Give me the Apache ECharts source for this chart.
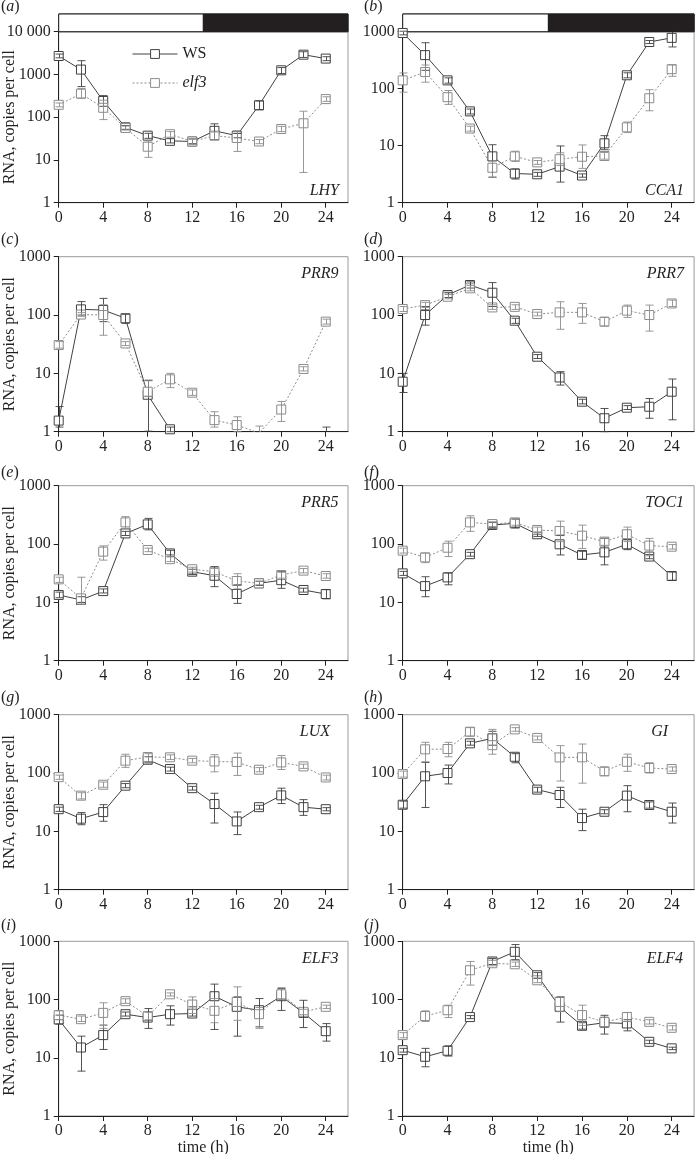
<!DOCTYPE html>
<html><head><meta charset="utf-8">
<script src="https://cdn.jsdelivr.net/npm/echarts@6/dist/echarts.min.js"></script>
<style>html,body{margin:0;padding:0;background:#fff}#c{width:696px;height:1154px}</style>
</head><body><div id="c"></div>
<script>
// ---------- data ----------
const HOURS = [0, 2, 4, 6, 8, 10, 12, 14, 16, 18, 20, 22, 24];
const PHOTOPERIOD = [[0, 13, 0], [13, 26, 1]]; // [start, end, dark?]
const GENES = ['LHY', 'CCA1', 'PRR9', 'PRR7', 'PRR5', 'TOC1', 'LUX', 'GI', 'ELF3', 'ELF4'];
const LETTERS = ['a', 'b', 'c', 'd', 'e', 'f', 'g', 'h', 'i', 'j'];
const Y_MAX = [10000, 1000, 1000, 1000, 1000, 1000, 1000, 1000, 1000, 1000];
const SERIES_NAMES = ['WS', 'elf3'];

const LHY_WS = [2700, 1300, 240, 58, 37, 28, 27, 48, 37, 190, 1250, 2900, 2350];
const LHY_WS_ERR = [[2450,3000],[520,2100],[180,320],[52,64],[32,42],[25,32],[24,31],[30,70],[33,42],[150,240],[1050,1450],[2500,3400],[2100,2600]];
const LHY_ELF = [195, 354, 166, 56, 20.4, 40, 27, 37, 32.6, 27, 53, 72, 265];
const LHY_ELF_ERR = [[175,215],[280,470],[88,250],[50,62],[11.5,28],[34,46],[23,31],[30,45],[15.8,48],[24,30],[46,61],[5.1,138],[235,300]];

const CCA1_WS = [950, 388, 140, 40, 6.5, 3.25, 3.15, 4.3, 3.0, 11, 172, 660, 780];
const CCA1_WS_ERR = [[880,1020],[210,640],[125,155],[36,44],[2.8,10.4],[2.6,3.9],[2.9,3.4],[2.3,9.9],[2.8,3.2],[8.5,15],[155,190],[620,700],[540,1140]];
const CCA1_ELF = [140, 196, 71, 20, 4.1, 6.5, 5.1, 5.8, 6.4, 6.6, 21, 68, 220];
const CCA1_ELF_ERR = [[87,189],[130,260],[53,93],[18,22],[2.8,5.4],[5.3,8],[4.7,5.5],[4.5,7.5],[4,10.3],[5.8,7.6],[17,26],[41,96],[165,260]];

const PRR9_WS = [1.55, 125, 122, 88, 4.3, 1.1, null, null, null, null, null, null, null];
const PRR9_WS_ERR = [[1.2,2.7],[100,170],[77,193],[72,103],[1.02,7.5],[1.0,1.2],null,null,null,null,null,null,[0.4,1.2]];
const PRR9_ELF = [30.6, 102, 100, 32.6, 4.85, 7.9, 4.66, 1.58, 1.3, 0.95, 2.4, 11.9, 77];
const PRR9_ELF_ERR = [[27,35],[95,110],[45,150],[30,35],[4,7.7],[5.7,10],[4.2,5.2],[1.2,2.2],[1.0,1.8],[0.8,1.25],[1.5,3.3],[11,13],[70,85]];

const PRR7_WS = [7.2, 100, 220, 327, 241, 80, 19.3, 8.5, 3.27, 1.7, 2.58, 2.68, 4.85];
const PRR7_WS_ERR = [[4.7,10],[67,140],[200,240],[290,370],[140,360],[72,88],[18,21],[6.3,10.7],[3,3.6],[1,2.5],[2.4,2.8],[1.7,3.7],[1.6,8]];
const PRR7_ELF = [127, 148, 206, 287, 135, 138, 104, 111, 111, 77, 119, 100, 158];
const PRR7_ELF_ERR = [[115,140],[135,165],[190,225],[260,320],[125,150],[125,150],[97,112],[57,169],[72,158],[65,91],[91,148],[53,148],[140,180]];

const PRR5_WS = [13.4, 11, 15.6, 152, 217, 69, 33.6, 28.6, 13.9, 21.2, 24, 16.3, 13.9];
const PRR5_WS_ERR = [[12,15],[10,12.5],[14.5,17],[140,165],[175,275],[62,78],[30,37],[18.6,41],[9.6,20],[19.5,23],[17.4,33.6],[15,17.5],[11.5,16.5]];
const PRR5_ELF = [24.8, 11.7, 74, 235, 79, 55, 37, 33.6, 23.2, 21.2, 29.4, 35, 28.3];
const PRR5_ELF_ERR = [[22,27],[9.2,27],[53,93],[185,295],[74,85],[50,60],[33,40],[30,38],[17,31],[20,23],[26,33],[32,38],[26,31]];

const TOC1_WS = [31.4, 19, 26.8, 67, 212, 226, 147, 99, 65, 72, 99, 61, 28.3];
const TOC1_WS_ERR = [[29,34],[12.5,27.5],[20,32],[62,72],[190,235],[190,268],[135,160],[65,142],[55,75],[44,125],[80,120],[56,66],[24,33]];
const TOC1_ELF = [77, 59, 86.5, 235, 220, 235, 174, 167, 139, 110, 147, 94, 90];
const TOC1_ELF_ERR = [[70,85],[48,70],[61,112],[165,305],[200,240],[210,265],[155,195],[110,247],[84,211],[95,125],[110,195],[63,125],[82,98]];

const LUX_WS = [24, 16.5, 21.4, 60.7, 169, 117, 55, 29.4, 14.8, 26, 41.4, 26, 24];
const LUX_WS_ERR = [[22,26],[13,21],[14.9,28.7],[56,66],[150,190],[108,126],[51,59],[13.9,45],[8.8,21.5],[24,28],[30,55],[18.8,35],[22.5,25.5]];
const LUX_ELF = [85, 40.9, 63, 163, 188, 186, 163, 158, 155, 114, 152, 130, 84];
const LUX_ELF_ERR = [[78,92],[36,46],[57,70],[125,210],[150,215],[170,205],[150,178],[105,206],[91,220],[105,124],[115,200],[120,142],[76,92]];

const GI_WS = [28.6, 88, 100, 323, 393, 190, 52, 42, 16.9, 21.7, 41, 28.3, 21.7];
const GI_WS_ERR = [[25,33],[25.7,152],[65,137],[300,350],[300,520],[150,215],[47,57],[25.7,57],[10.3,24],[20,23.5],[21.7,60.7],[25,32],[13.9,30.6]];
const GI_ELF = [96, 255, 258, 511, 300, 560, 400, 185, 186, 107, 156, 122, 117];
const GI_ELF_ERR = [[85,108],[156,336],[190,336],[430,600],[210,560],[520,600],[370,430],[73,295],[67,314],[90,125],[107,211],[100,150],[108,127]];

const ELF3_WS = [45.4, 15, 24.5, 56, 49, 56, 57.5, 114, 75, 65.6, 114, 59, 28.6];
const ELF3_WS_ERR = [[38,54],[5.9,23.5],[13.9,36.4],[52,61],[31.9,70],[36.4,78],[52,75],[30.6,184],[23.5,111],[34,104],[65,154],[33,97],[19.3,38.6]];
const ELF3_ELF = [54, 46, 59, 93.7, 52, 123, 82, 64, 91, 56, 123, 61.5, 75];
const ELF3_ELF_ERR = [[45,64],[42,52],[32,88],[86,103],[45,60],[115,130],[57.5,111],[40,104],[44,165],[32,73],[100,160],[55,68],[70,80]];

const ELF4_WS = [13.5, 10.4, 13.2, 50, 450, 660, 261, 75, 35.4, 40, 38.8, 18.8, 14.5];
const ELF4_WS_ERR = [[12.5,14.5],[7,14.5],[10.7,16],[47,53],[400,510],[480,880],[230,290],[41,111],[31,40],[25.5,53.6],[29,45],[17.5,20],[13.8,15.2]];
const ELF4_ELF = [24.5, 52, 65.6, 318, 420, 403, 214, 91, 54, 41, 50, 41.4, 32.7];
const ELF4_ELF_ERR = [[22,27],[42,64],[49,80],[177,450],[380,470],[370,440],[195,235],[62,111],[36,80],[34,50],[42,60],[38,45],[30,35.5]];

const WS_VALUES = [LHY_WS, CCA1_WS, PRR9_WS, PRR7_WS, PRR5_WS, TOC1_WS, LUX_WS, GI_WS, ELF3_WS, ELF4_WS];
const WS_ERRORS = [LHY_WS_ERR, CCA1_WS_ERR, PRR9_WS_ERR, PRR7_WS_ERR, PRR5_WS_ERR, TOC1_WS_ERR, LUX_WS_ERR, GI_WS_ERR, ELF3_WS_ERR, ELF4_WS_ERR];
const ELF_VALUES = [LHY_ELF, CCA1_ELF, PRR9_ELF, PRR7_ELF, PRR5_ELF, TOC1_ELF, LUX_ELF, GI_ELF, ELF3_ELF, ELF4_ELF];
const ELF_ERRORS = [LHY_ELF_ERR, CCA1_ELF_ERR, PRR9_ELF_ERR, PRR7_ELF_ERR, PRR5_ELF_ERR, TOC1_ELF_ERR, LUX_ELF_ERR, GI_ELF_ERR, ELF3_ELF_ERR, ELF4_ELF_ERR];

// ---------- layout / style ----------
const FONT = '"Liberation Serif", "Times New Roman", serif';
const INK = '#231f20';
const WS_COLOR = '#404040';
const ELF_COLOR = '#8c8c8c';
const COL_LEFT = [58.7, 402.7];
const COL_WIDTH = [289.3, 291.4];
const ROW_TOP = [31.7, 256.7, 485.7, 714.7, 941.3];
const ROW_HEIGHT = [171, 175, 175, 175, 174.7];
const GENE_POS = ['bottom', 'bottom', 'top', 'top', 'top', 'top', 'top', 'top', 'top', 'top'];
const GENE_RIGHT_PAD = [9, 10, 9.5, 10, 9.5, 10, 18, 26, 9.5, 11];
const LETTER_X = [1, 364];
const LETTER_Y = [7, 240, 472.5, 698, 926];

const grids = [], xAxes = [], yAxes = [], series = [], graphics = [];

function errRenderer(color) {
  return function (params, api) {
    const x = api.value(0), lo = api.value(1), hi = api.value(2);
    const cs = params.coordSys;
    const pt = api.coord([x, hi]), pb = api.coord([x, lo]);
    const yMin = cs.y, yMax = cs.y + cs.height;
    const cl = v => Math.max(yMin, Math.min(yMax, v));
    const cx = Math.round(pt[0]) + 0.5;
    const st = { stroke: color, lineWidth: 0.9 };
    const ch = [{ type: 'line', shape: { x1: cx, y1: cl(pt[1]), x2: cx, y2: cl(pb[1]) }, style: st }];
    [pt[1], pb[1]].forEach(y => {
      if (y >= yMin - 0.5 && y <= yMax + 0.5) ch.push({ type: 'line', shape: { x1: cx - 4, y1: y, x2: cx + 4, y2: y }, style: st });
    });
    return { type: 'group', children: ch };
  };
}

for (let p = 0; p < 10; p++) {
  const col = p % 2, row = Math.floor(p / 2);
  const left = COL_LEFT[col], top = ROW_TOP[row], w = COL_WIDTH[col], h = ROW_HEIGHT[row];
  grids.push({ left, top, width: w, height: h, show: true, borderColor: '#9a9a9a', borderWidth: 1,
               backgroundColor: 'transparent', containLabel: false, outerBoundsMode: 'none' });
  xAxes.push({
    gridIndex: p, type: 'value', min: 0, max: 26, interval: 4,
    axisLine: { show: true, onZero: false, lineStyle: { color: INK, width: 1 } },
    axisTick: { show: true, inside: false, length: 5, lineStyle: { color: INK } },
    axisLabel: { show: true, margin: 7, fontSize: 16, fontFamily: FONT, color: INK, showMaxLabel: false, hideOverlap: false },
    splitLine: { show: false },
    name: row === 4 ? 'time (h)' : '', nameLocation: 'middle', nameGap: 24, nameMoveOverlap: false,
    nameTextStyle: { fontSize: 16, fontFamily: FONT, color: INK }
  });
  yAxes.push({
    gridIndex: p, type: 'log', logBase: 10, min: 1, max: Y_MAX[p],
    axisLine: { show: true, lineStyle: { color: INK, width: 1 } },
    axisTick: { show: true, inside: false, length: 5, lineStyle: { color: INK } },
    minorTick: { show: false },
    axisLabel: { show: true, margin: 8, fontSize: 16, fontFamily: FONT, color: INK, hideOverlap: false,
      formatter: v => { const r = Math.round(v); return r === 10000 ? '10 000' : String(r); } },
    splitLine: { show: false },
    name: col === 0 ? 'RNA, copies per cell' : '', nameLocation: 'middle', nameGap: 41, nameMoveOverlap: false,
    nameTextStyle: { fontSize: 16, fontFamily: FONT, color: INK }
  });

  const mk = (name, vals, errs, color, dash) => {
    series.push({
      name, type: 'line', xAxisIndex: p, yAxisIndex: p, z: 2,
      data: HOURS.map((t, i) => [t, vals[i] == null ? '-' : vals[i]]),
      symbol: 'rect', symbolSize: 9, showSymbol: true, connectNulls: false, clip: true,
      lineStyle: { color, width: 1, type: dash },
      itemStyle: { color: '#ffffff', borderColor: color, borderWidth: 1 },
      emphasis: { disabled: true }, animation: false
    });
    series.push({
      name, type: 'custom', xAxisIndex: p, yAxisIndex: p, z: 3,
      renderItem: errRenderer(color),
      data: HOURS.map((t, i) => errs[i] ? [t, errs[i][0], errs[i][1]] : null).filter(Boolean),
      silent: true, animation: false
    });
  };
  mk(SERIES_NAMES[0], WS_VALUES[p], WS_ERRORS[p], WS_COLOR, 'solid');
  mk(SERIES_NAMES[1], ELF_VALUES[p], ELF_ERRORS[p], ELF_COLOR, [2, 2]);

  // gene label
  const gy = GENE_POS[p] === 'top' ? top + 17 : top + h - 12;
  graphics.push({ type: 'text', z: 100, style: {
    text: GENES[p], x: left + w - GENE_RIGHT_PAD[p], y: gy, align: 'right', verticalAlign: 'middle',
    font: 'italic 16px ' + FONT, fill: INK } });
  // panel letter
  graphics.push({ type: 'text', z: 100, style: {
    text: '({i|' + LETTERS[p] + '})', x: LETTER_X[col], y: LETTER_Y[row], verticalAlign: 'middle',
    font: '16px ' + FONT, fill: INK,
    rich: { i: { fontStyle: 'italic', fontSize: 16, fontFamily: FONT, fill: INK, color: INK } } } });
}

// light/dark bars above panels a and b
for (let col = 0; col < 2; col++) {
  const gi = grids.length;
  grids.push({ left: COL_LEFT[col], top: 14, width: COL_WIDTH[col], height: ROW_TOP[0] - 14,
               show: true, borderColor: INK, borderWidth: 1, containLabel: false, outerBoundsMode: 'none' });
  xAxes.push({ gridIndex: gi, type: 'value', min: 0, max: 26, show: false });
  yAxes.push({ gridIndex: gi, type: 'value', min: 0, max: 1, show: false });
  series.push({
    type: 'custom', xAxisIndex: gi, yAxisIndex: gi, silent: true, animation: false,
    renderItem: (params, api) => {
      const a = api.coord([api.value(0), 1]), b = api.coord([api.value(1), 0]);
      return { type: 'rect', shape: { x: a[0], y: a[1], width: b[0] - a[0], height: b[1] - a[1] },
               style: { fill: api.value(2) ? INK : '#ffffff', stroke: INK, lineWidth: 1 } };
    },
    data: PHOTOPERIOD
  });
}

const chart = echarts.init(document.getElementById('c'), null, { renderer: 'canvas' });
chart.setOption({
  backgroundColor: '#ffffff',
  animation: false,
  textStyle: { fontFamily: FONT, color: INK },
  grid: grids, xAxis: xAxes, yAxis: yAxes, series,
  legend: {
    data: SERIES_NAMES, orient: 'vertical', left: 127, top: 41,
    itemWidth: 45, itemHeight: 11, itemGap: 13, selectedMode: false,
    itemStyle: { borderWidth: 1 },
    lineStyle: { width: 1 },
    formatter: n => n === 'elf3' ? '{i|elf3}' : n,
    textStyle: { fontSize: 16, fontFamily: FONT, color: INK, lineHeight: 16,
      rich: { i: { fontStyle: 'italic', fontSize: 16, fontFamily: FONT, color: INK } } }
  },
  graphic: graphics
});
</script></body></html>
